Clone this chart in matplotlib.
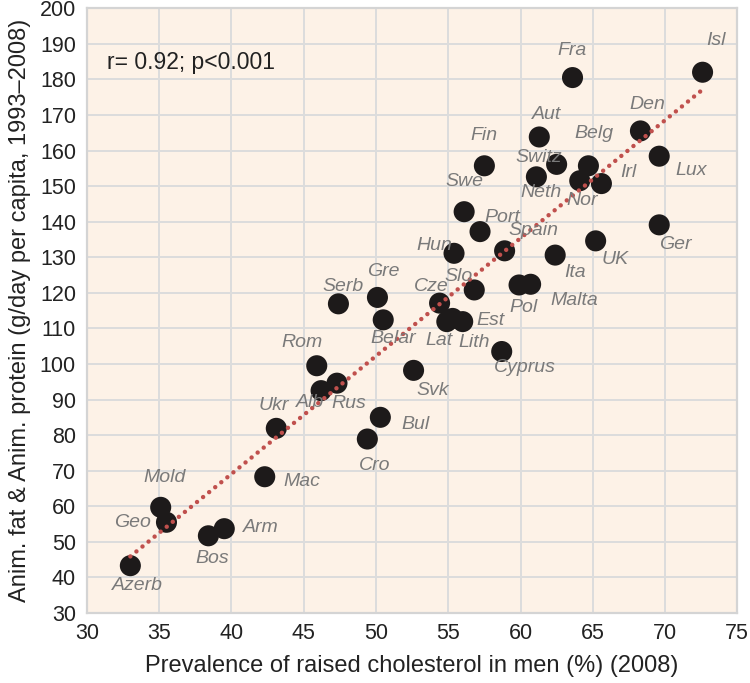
import numpy as np
import matplotlib
matplotlib.use("Agg")
import matplotlib.pyplot as plt

plt.rcParams['font.family'] = ['Liberation Sans', 'DejaVu Sans']

# dados
countries = ["Isl", "Fra", "Den", "Aut", "Lux", "Fin", "Switz", "Neth", "Belg", "Nor",
             "Irl", "Swe", "Port", "Ger", "Hun", "Spain", "UK", "Ita", "Slo", "Pol",
             "Malta", "Cze", "Lat", "Lith", "Est", "Cyprus", "Svk", "Gre", "Serb", "Belar",
             "Rom", "Alb", "Rus", "Bul", "Ukr", "Cro", "Mac", "Mold", "Geo", "Arm",
             "Bos", "Azerb"]
cholesterol = [72.6, 63.6, 68.3, 61.3, 69.6, 57.5, 62.5, 61.1, 64.7, 64.1,
               65.6, 56.1, 57.2, 69.6, 55.4, 58.9, 65.2, 62.4, 56.8, 59.9,
               60.7, 54.4, 54.9, 55.3, 56.0, 58.7, 52.6, 50.1, 47.4, 50.5,
               45.9, 46.2, 47.3, 50.3, 43.1, 49.4, 42.3, 35.1, 35.5, 39.5,
               38.4, 33.0]
fat_protein = [182.0, 180.5, 165.5, 163.8, 158.4, 155.7, 156.1, 152.6, 155.7, 151.5,
               150.7, 142.8, 137.2, 139.1, 131.1, 131.8, 134.6, 130.6, 120.8, 122.2,
               122.4, 117.1, 111.9, 112.8, 111.9, 103.5, 98.2, 118.7, 116.9, 112.4,
               99.5, 92.5, 94.6, 85.0, 81.9, 78.9, 68.3, 59.7, 55.5, 53.7,
               51.7, 43.3]

# deslocamento dos rótulos (pixels, y para baixo)
label_offsets = {
    "Isl": (13, -32), "Fra": (0, -27), "Den": (7, -26), "Aut": (7, -22),
    "Lux": (32, 14), "Fin": (0, -30), "Switz": (-18, -7), "Neth": (5, 16),
    "Belg": (6, -32), "Nor": (2, 20), "Irl": (27, -11), "Swe": (0, -30),
    "Port": (22, -14), "Ger": (16, 20), "Hun": (-20, -8), "Spain": (29, -20),
    "UK": (19, 19), "Ita": (20, 17), "Slo": (-16, -13), "Pol": (4, 23),
    "Malta": (44, 16), "Cze": (-8, -17), "Lat": (-8, 19), "Lith": (22, 24),
    "Est": (28, -1), "Cyprus": (23, 16), "Svk": (19, 20), "Gre": (6, -26),
    "Serb": (5, -17), "Belar": (10, 19), "Rom": (-15, -23), "Alb": (-11, 12),
    "Rus": (12, 20), "Bul": (35, 7), "Ukr": (-3, -23), "Cro": (7, 26),
    "Mac": (37, 5), "Mold": (4, -30), "Geo": (-34, 0), "Arm": (37, -1),
    "Bos": (4, 23), "Azerb": (7, 20),
}

x = np.array(cholesterol)
y = np.array(fat_protein)

fig = plt.figure(figsize=(7.5, 6.83), dpi=100)
ax = fig.add_axes([0.116, 0.1025, 0.867, 0.8855])
ax.set_facecolor("#fdf2e7")

ax.set_xlim(30, 75)
ax.set_ylim(30, 200)
ax.set_xticks(np.arange(30, 76, 5))
ax.set_yticks(np.arange(30, 201, 10))
ax.grid(True, color="#dcdcdc", linewidth=1.4)
ax.set_axisbelow(True)
ax.tick_params(length=0, labelsize=15.5, colors="#222222")
ax.tick_params(axis="y", pad=8)
ax.tick_params(axis="x", pad=7)
for s in ax.spines.values():
    s.set_color("#d4d4d4")
    s.set_linewidth(1.6)

# linha de tendência
coef = np.polyfit(x, y, 1)
xs = np.array([x.min(), x.max()])
ax.plot(xs, np.polyval(coef, xs), color="#c0504d", linewidth=3.2,
        linestyle=(0, (0.01, 1.75)), dash_capstyle="round", zorder=3)

ax.scatter(x, y, s=230, color="#1d1a1a", edgecolors="none", zorder=2)

for name, xi, yi in zip(countries, x, y):
    dx, dy = label_offsets[name]
    ax.annotate(name, (xi, yi), xytext=(dx, -dy), textcoords="offset pixels",
                ha="center", va="center", fontsize=14, style="italic",
                color="#7a7a7a", zorder=4)

ax.text(0.031, 0.911, "r= 0.92; p<0.001", transform=ax.transAxes,
        fontsize=16.5, color="#222222", va="center", ha="left")

ax.set_xlabel("Prevalence of raised cholesterol in men (%) (2008)", fontsize=17,
              color="#222222", labelpad=8)
ax.set_ylabel("Anim. fat & Anim. protein (g/day per capita, 1993\u20132008)", fontsize=17,
              color="#222222", labelpad=6)

fig.savefig("out.png", dpi=100)
